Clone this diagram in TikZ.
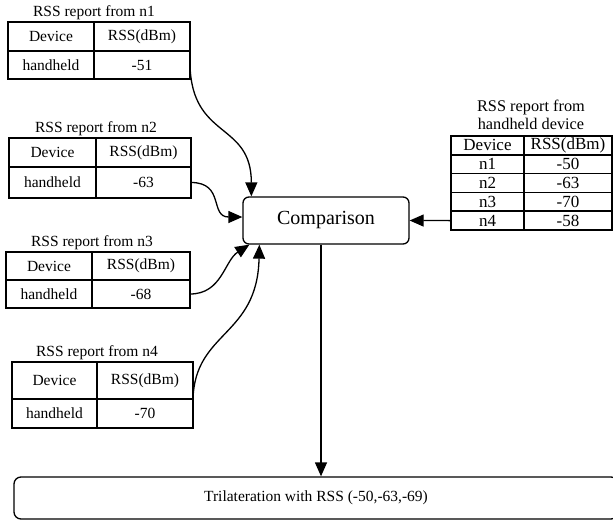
\documentclass[tikz,border=0pt]{standalone}
\usepackage{fontspec}
\setmainfont{Liberation Serif}
\usetikzlibrary{arrows.meta, calc, positioning}

\begin{document}
\begin{tikzpicture}[x=1pt, y=1pt,
    cell/.style={draw, line width=1.6pt, inner sep=0pt, outer sep=0pt, anchor=north west,
                 font=\fontsize{15.5}{17}\selectfont},
    hcell/.style={cell, minimum height=18.8pt, font=\fontsize{17}{18}\selectfont},
    title/.style={inner sep=0pt, align=center, font=\fontsize{15.5}{17}\selectfont},
    box/.style={draw, line width=1.3pt, rounded corners=6pt, inner sep=0pt},
    conn/.style={line width=1.3pt, -{Triangle[length=14pt, width=12pt]}}]
    \useasboundingbox (0,0) rectangle (613,-520);

    % report from n1
    \node[cell, minimum width=86pt, minimum height=29pt] (n1dev) at (8,-22) {Device};
    \node[cell, minimum width=96pt, minimum height=29pt] (n1rss) at (n1dev.north east) {RSS(dBm)};
    \node[cell, minimum width=86pt, minimum height=28pt] (n1hh) at (n1dev.south west) {handheld};
    \node[cell, minimum width=96pt, minimum height=28pt] (n1val) at (n1hh.north east) {-51};
    \node[title, above=2pt of n1dev.north east] (n1title) {RSS report from n1};

    % report from n2
    \node[cell, minimum width=87pt, minimum height=29pt] (n2dev) at (9,-138) {Device};
    \node[cell, minimum width=95pt, minimum height=29pt] (n2rss) at (n2dev.north east) {RSS(dBm)};
    \node[cell, minimum width=87pt, minimum height=31pt] (n2hh) at (n2dev.south west) {handheld};
    \node[cell, minimum width=95pt, minimum height=31pt] (n2val) at (n2hh.north east) {-63};
    \node[title, above=2pt of n2dev.north east] (n2title) {RSS report from n2};

    % report from n3
    \node[cell, minimum width=86pt, minimum height=28pt] (n3dev) at (6,-252) {Device};
    \node[cell, minimum width=98pt, minimum height=28pt] (n3rss) at (n3dev.north east) {RSS(dBm)};
    \node[cell, minimum width=86pt, minimum height=28pt] (n3hh) at (n3dev.south west) {handheld};
    \node[cell, minimum width=98pt, minimum height=28pt] (n3val) at (n3hh.north east) {-68};
    \node[title, above=2pt of n3dev.north east] (n3title) {RSS report from n3};

    % report from n4
    \node[cell, minimum width=85pt, minimum height=37pt] (n4dev) at (12,-362) {Device};
    \node[cell, minimum width=96pt, minimum height=37pt] (n4rss) at (n4dev.north east) {RSS(dBm)};
    \node[cell, minimum width=85pt, minimum height=29pt] (n4hh) at (n4dev.south west) {handheld};
    \node[cell, minimum width=96pt, minimum height=29pt] (n4val) at (n4hh.north east) {-70};
    \node[title, above=2pt of n4dev.north east] (n4title) {RSS report from n4};

    % report from handheld device
    \node[hcell, minimum width=73pt] (hdev) at (451,-136) {Device};
    \node[hcell, minimum width=88pt] (hrss) at (hdev.north east) {RSS(dBm)};
    \node[hcell, minimum width=73pt] (hn1) at (hdev.south west) {n1};
    \node[hcell, minimum width=88pt] (hv1) at (hn1.north east) {-50};
    \node[hcell, minimum width=73pt] (hn2) at (hn1.south west) {n2};
    \node[hcell, minimum width=88pt] (hv2) at (hn2.north east) {-63};
    \node[hcell, minimum width=73pt] (hn3) at (hn2.south west) {n3};
    \node[hcell, minimum width=88pt] (hv3) at (hn3.north east) {-70};
    \node[hcell, minimum width=73pt] (hn4) at (hn3.south west) {n4};
    \node[hcell, minimum width=88pt] (hv4) at (hn4.north east) {-58};
    \node[title, font=\fontsize{16.3}{18}\selectfont, above=6pt of hdev.north east, xshift=7pt] (htitle)
        {RSS report from\\handheld device};

    \node[box, minimum width=166pt, minimum height=47pt, font=\fontsize{20}{22}\selectfont] (cmp) at (326,-220.5) {Comparison};
    \node[box, rounded corners=7pt, minimum width=604pt, minimum height=42pt, font=\fontsize{15.5}{17}\selectfont] (tri) at (316,-498) {Trilateration with RSS (-50,-63,-69)};
    \coordinate (cmpout) at ($(cmp.south)+(-5,0)$);

    \draw[conn] (n1val.east) .. controls +(2,-75) and +(0,75) .. ($(cmp.north west)+(9,0)$);
    \draw[conn] (n2val.east) .. controls +(34,0) and +(-33,0) .. ($(cmp.west)+(0,3.5)$);
    \draw[conn] (n3val.east) .. controls +(32,0) and +(-25,-16) .. ($(cmp.south west)+(7,0)$);
    \draw[conn] (n4val.north east) .. controls +(2,68) and +(-2,-92) .. ($(cmp.south west)+(17,0)$);
    \draw[conn] (hn4.west) -- (cmp.east);
    \draw[conn] (cmpout) -- (cmpout |- tri.north);
\end{tikzpicture}
\end{document}
